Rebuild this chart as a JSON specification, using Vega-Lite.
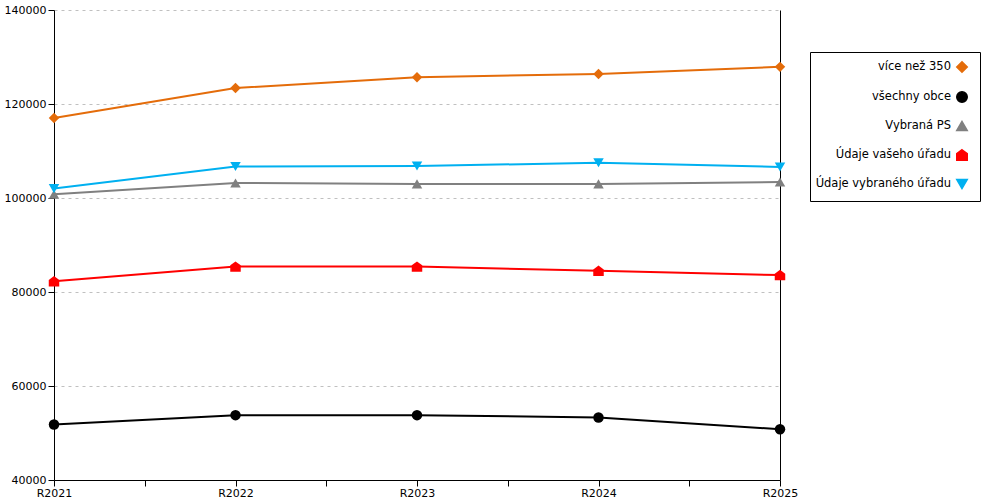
{
  "$schema": "https://vega.github.io/schema/vega-lite/v6.json",
  "width": 726,
  "height": 470,
  "autosize": {"type": "none"},
  "padding": {"left": 54, "top": 10, "right": 220, "bottom": 20},
  "background": "white",
  "config": {
    "font": "DejaVu Sans",
    "view": {"stroke": null},
    "axis": {
      "labelFont": "DejaVu Sans",
      "labelFontSize": 11,
      "labelColor": "black",
      "domainColor": "black",
      "tickColor": "black",
      "tickSize": 6
    },
    "legend": {
      "orient": "none",
      "legendX": 756,
      "legendY": 42,
      "strokeColor": "black",
      "fillColor": "white",
      "padding": 9,
      "labelFont": "DejaVu Sans",
      "labelFontSize": 11.5,
      "labelColor": "black",
      "labelLimit": 300,
      "labelAlign": "right",
      "labelOffset": -17,
      "symbolOffset": 137,
      "rowPadding": 12,
      "symbolSize": 110
    }
  },
  "data": {
    "values": [
      {"rok": 2021, "hodnota": 117000, "rada": "více než 350"},
      {"rok": 2022, "hodnota": 123400, "rada": "více než 350"},
      {"rok": 2023, "hodnota": 125700, "rada": "více než 350"},
      {"rok": 2024, "hodnota": 126400, "rada": "více než 350"},
      {"rok": 2025, "hodnota": 127900, "rada": "více než 350"},
      {"rok": 2021, "hodnota": 51800, "rada": "všechny obce"},
      {"rok": 2022, "hodnota": 53800, "rada": "všechny obce"},
      {"rok": 2023, "hodnota": 53800, "rada": "všechny obce"},
      {"rok": 2024, "hodnota": 53300, "rada": "všechny obce"},
      {"rok": 2025, "hodnota": 50800, "rada": "všechny obce"},
      {"rok": 2021, "hodnota": 100800, "rada": "Vybraná PS"},
      {"rok": 2022, "hodnota": 103200, "rada": "Vybraná PS"},
      {"rok": 2023, "hodnota": 103000, "rada": "Vybraná PS"},
      {"rok": 2024, "hodnota": 103000, "rada": "Vybraná PS"},
      {"rok": 2025, "hodnota": 103400, "rada": "Vybraná PS"},
      {"rok": 2021, "hodnota": 82300, "rada": "Údaje vašeho úřadu"},
      {"rok": 2022, "hodnota": 85400, "rada": "Údaje vašeho úřadu"},
      {"rok": 2023, "hodnota": 85400, "rada": "Údaje vašeho úřadu"},
      {"rok": 2024, "hodnota": 84500, "rada": "Údaje vašeho úřadu"},
      {"rok": 2025, "hodnota": 83600, "rada": "Údaje vašeho úřadu"},
      {"rok": 2021, "hodnota": 102000, "rada": "Údaje vybraného úřadu"},
      {"rok": 2022, "hodnota": 106700, "rada": "Údaje vybraného úřadu"},
      {"rok": 2023, "hodnota": 106800, "rada": "Údaje vybraného úřadu"},
      {"rok": 2024, "hodnota": 107500, "rada": "Údaje vybraného úřadu"},
      {"rok": 2025, "hodnota": 106600, "rada": "Údaje vybraného úřadu"}
    ]
  },
  "layer": [
    {
      "mark": {"type": "line", "strokeWidth": 2},
      "encoding": {
        "x": {
          "field": "rok",
          "type": "quantitative",
          "scale": {"domain": [2021, 2025], "nice": false, "zero": false},
          "axis": {
            "title": null,
            "grid": false,
            "values": [2021, 2021.5, 2022, 2022.5, 2023, 2023.5, 2024, 2024.5, 2025],
            "labelExpr": "datum.value % 1 === 0 ? 'R' + datum.value : ''",
            "labelFlush": false,
            "labelOverlap": false,
            "labelPadding": 1
          }
        },
        "y": {
          "field": "hodnota",
          "type": "quantitative",
          "scale": {"domain": [40000, 140000], "nice": false, "zero": false},
          "axis": {
            "title": null,
            "values": [40000, 60000, 80000, 100000, 120000, 140000],
            "format": "d",
            "gridColor": "#c0c0c0",
            "gridDash": [3, 4],
            "labelPadding": 2
          }
        },
        "color": {
          "field": "rada",
          "type": "nominal",
          "scale": {
            "domain": ["více než 350", "všechny obce", "Vybraná PS", "Údaje vašeho úřadu", "Údaje vybraného úřadu"],
            "range": ["#e46c0a", "#000000", "#808080", "#ff0000", "#00b0f0"]
          },
          "legend": {"title": null}
        }
      }
    },
    {
      "mark": {"type": "point", "filled": true, "opacity": 1, "size": 110},
      "encoding": {
        "x": {"field": "rok", "type": "quantitative"},
        "y": {
          "field": "hodnota",
          "type": "quantitative",
          "axis": {"orient": "right", "title": null, "labels": false, "ticks": false, "grid": false}
        },
        "color": {"field": "rada", "type": "nominal", "legend": {"title": null}},
        "shape": {
          "field": "rada",
          "type": "nominal",
          "scale": {
            "domain": ["více než 350", "všechny obce", "Vybraná PS", "Údaje vašeho úřadu", "Údaje vybraného úřadu"],
            "range": ["diamond", "circle", "triangle-up", "M0,-1L1,-0.25L1,1L-1,1L-1,-0.25Z", "triangle-down"]
          },
          "legend": {"title": null}
        }
      }
    }
  ],
  "resolve": {"axis": {"y": "independent"}}
}
